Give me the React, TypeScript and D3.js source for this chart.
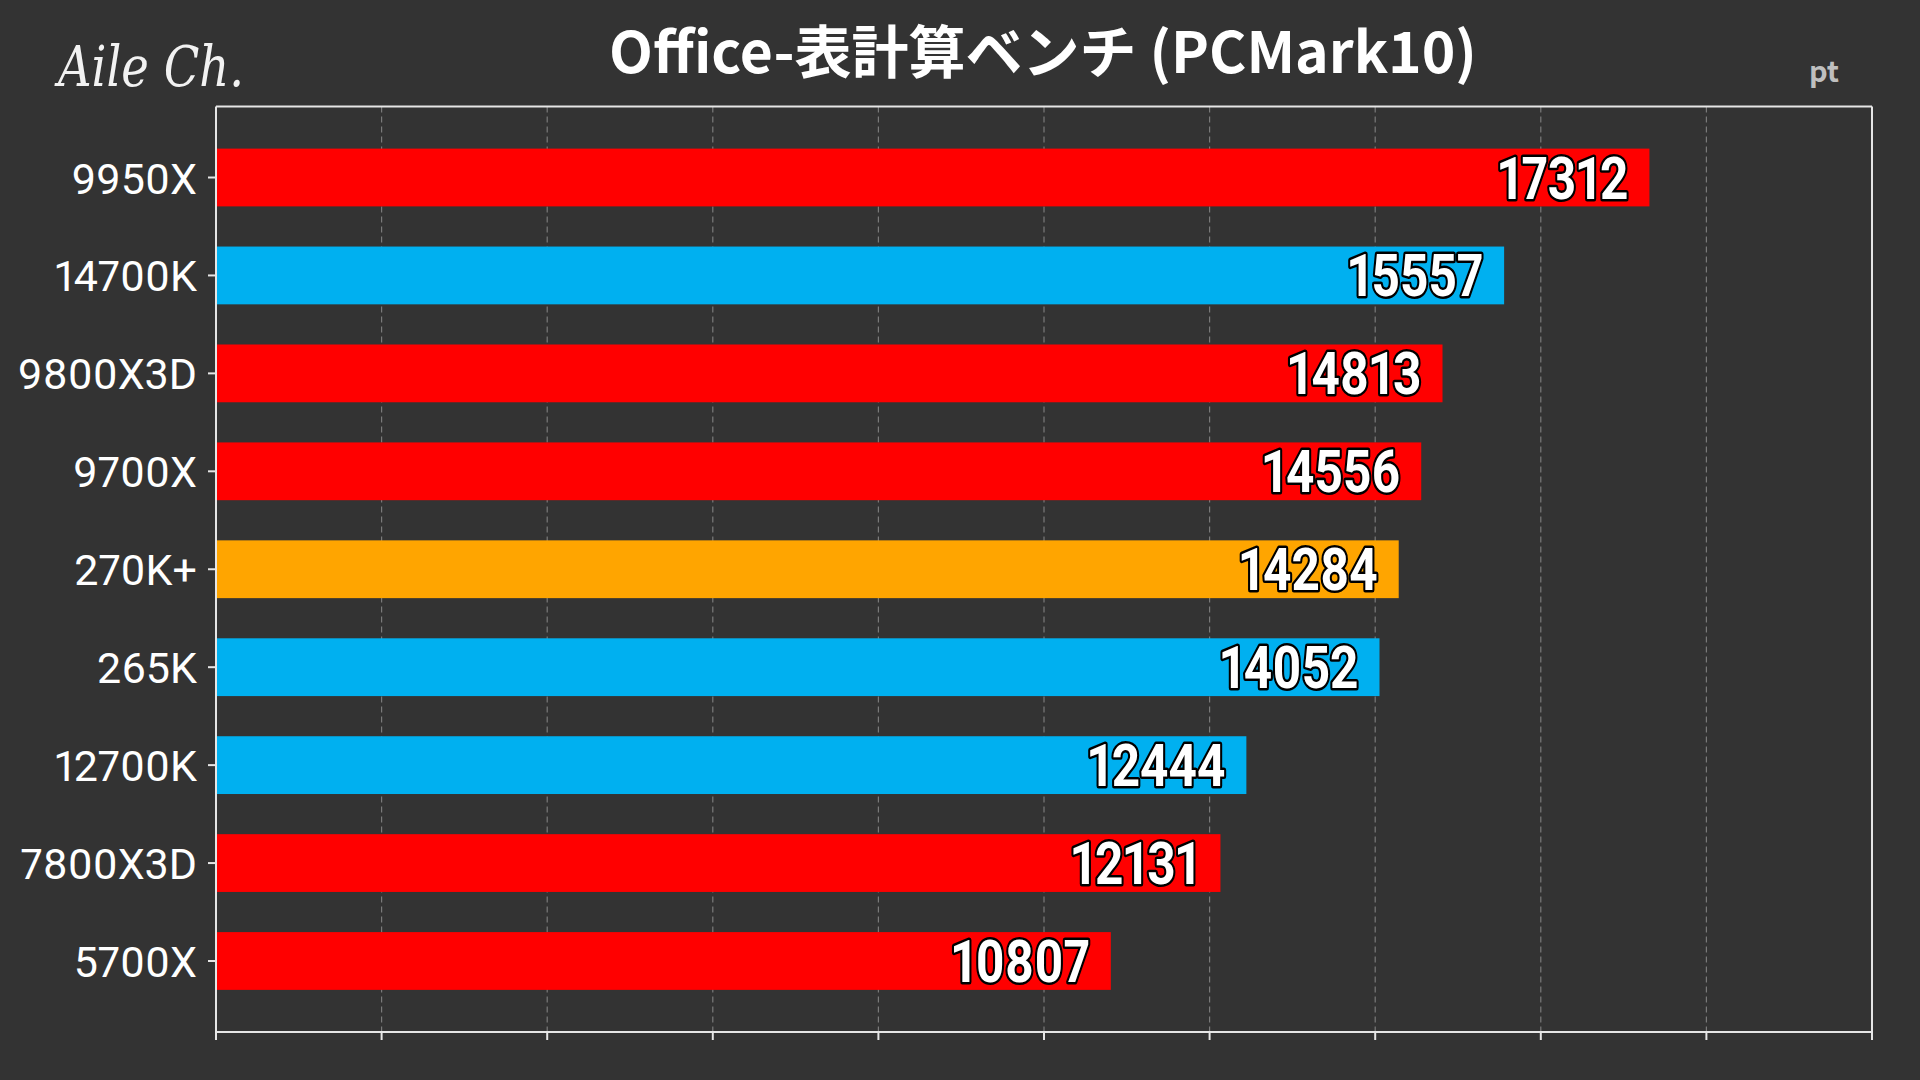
import React from "react";
import * as d3 from "d3";

const categories = ["9950X", "14700K", "9800X3D", "9700X", "270K+", "265K", "12700K", "7800X3D", "5700X"];
const values = [17312, 15557, 14813, 14556, 14284, 14052, 12444, 12131, 10807];
const colorKeys = ["amd", "intel", "amd", "amd", "highlight", "intel", "intel", "amd", "amd"];
const xTicks = [0, 2000, 4000, 6000, 8000, 10000, 12000, 14000, 16000, 18000, 20000];
const title = "Office-表計算ベンチ (PCMark10)";
const unit = "pt";
const logo = "Aile Ch.";

const palette: Record<string, string> = {
  amd: "#FF0000",
  intel: "#00B0F0",
  highlight: "#FFA500",
};

const W = 1920;
const H = 1080;
const left = 216;
const right = 1872;
const top = 106.5;
const bottom = 1032;

export default function App() {
  React.useEffect(() => {
    document.body.style.margin = "0";
    document.body.style.background = "#333333";
  }, []);

  const x = d3.scaleLinear().domain([0, 20000]).range([left, right]);
  const y = d3
    .scaleBand<string>()
    .domain(categories)
    .range([top, bottom])
    .paddingInner(0.41)
    .paddingOuter(0.43);
  const bw = y.bandwidth();

  return (
    <div style={{ position: "fixed", left: 0, top: 0, width: W, height: H }}>
      <svg width={W} height={H} viewBox={`0 0 ${W} ${H}`} style={{ display: "block" }}>
        <rect x={0} y={0} width={W} height={H} fill="#333333" />

        {/* logo */}
        <text
          x={58}
          y={86}
          fill="#f2f2f2"
          fontFamily="'DejaVu Serif', serif"
          fontStyle="italic"
          fontWeight={300}
          fontSize={56}
          textLength={186}
          lengthAdjust="spacingAndGlyphs"
        >
          {logo}
        </text>

        {/* title */}
        <text
          x={1043}
          y={73}
          textAnchor="middle"
          fill="#ffffff"
          fontFamily="'Noto Sans CJK JP', 'Noto Sans', sans-serif"
          fontWeight={700}
          fontSize={57}
        >
          {title}
        </text>

        {/* unit */}
        <text
          x={1824}
          y={82}
          textAnchor="middle"
          fill="#bfbfbf"
          fontFamily="'Noto Sans CJK JP', 'Noto Sans', sans-serif"
          fontWeight={700}
          fontSize={29}
        >
          {unit}
        </text>

        {/* gridlines */}
        {xTicks.slice(1, -1).map((t) => (
          <line
            key={"g" + t}
            x1={x(t)}
            x2={x(t)}
            y1={top}
            y2={bottom}
            stroke="#7a7a7a"
            strokeWidth={1.2}
            strokeDasharray="6,4"
          />
        ))}

        {/* bars */}
        {categories.map((c, i) => (
          <rect
            key={"b" + c}
            x={x(0)}
            y={y(c)!}
            width={x(values[i]) - x(0)}
            height={bw}
            fill={palette[colorKeys[i]]}
          />
        ))}

        {/* frame */}
        <line x1={left} x2={right} y1={top} y2={top} stroke="#e6e6e6" strokeWidth={2} />
        <line x1={right} x2={right} y1={top} y2={bottom} stroke="#e6e6e6" strokeWidth={2} />
        <line x1={left} x2={left} y1={top} y2={bottom} stroke="#e6e6e6" strokeWidth={2} />
        <line x1={left} x2={right} y1={bottom} y2={bottom} stroke="#e6e6e6" strokeWidth={2} />

        {/* x ticks */}
        {xTicks.map((t) => (
          <line key={"t" + t} x1={x(t)} x2={x(t)} y1={bottom} y2={bottom + 8} stroke="#e6e6e6" strokeWidth={2} />
        ))}

        {/* y ticks and labels */}
        {categories.map((c) => {
          const cy = y(c)! + bw / 2;
          return (
            <g key={"y" + c}>
              <line x1={left - 8} x2={left} y1={cy} y2={cy} stroke="#e6e6e6" strokeWidth={2} />
              <text
                x={197}
                y={cy + 16}
                textAnchor="end"
                fill="#ffffff"
                fontFamily="Roboto, sans-serif"
                fontSize={43}
                style={{ fontVariantNumeric: "proportional-nums" }}
              >
                {c}
              </text>
            </g>
          );
        })}

        {/* value labels */}
        {categories.map((c, i) => {
          const cy = y(c)! + bw / 2;
          return (
            <text
              key={"v" + c}
              transform={`translate(${x(values[i]) - 21},${cy + 21}) scale(0.84,1)`}
              textAnchor="end"
              fill="#ffffff"
              stroke="#000000"
              strokeWidth={5}
              strokeLinejoin="round"
              paintOrder="stroke"
              fontFamily="Roboto, sans-serif"
              fontWeight={700}
              fontSize={59}
              style={{ fontVariantNumeric: "proportional-nums" }}
            >
              {values[i]}
            </text>
          );
        })}
      </svg>
    </div>
  );
}
